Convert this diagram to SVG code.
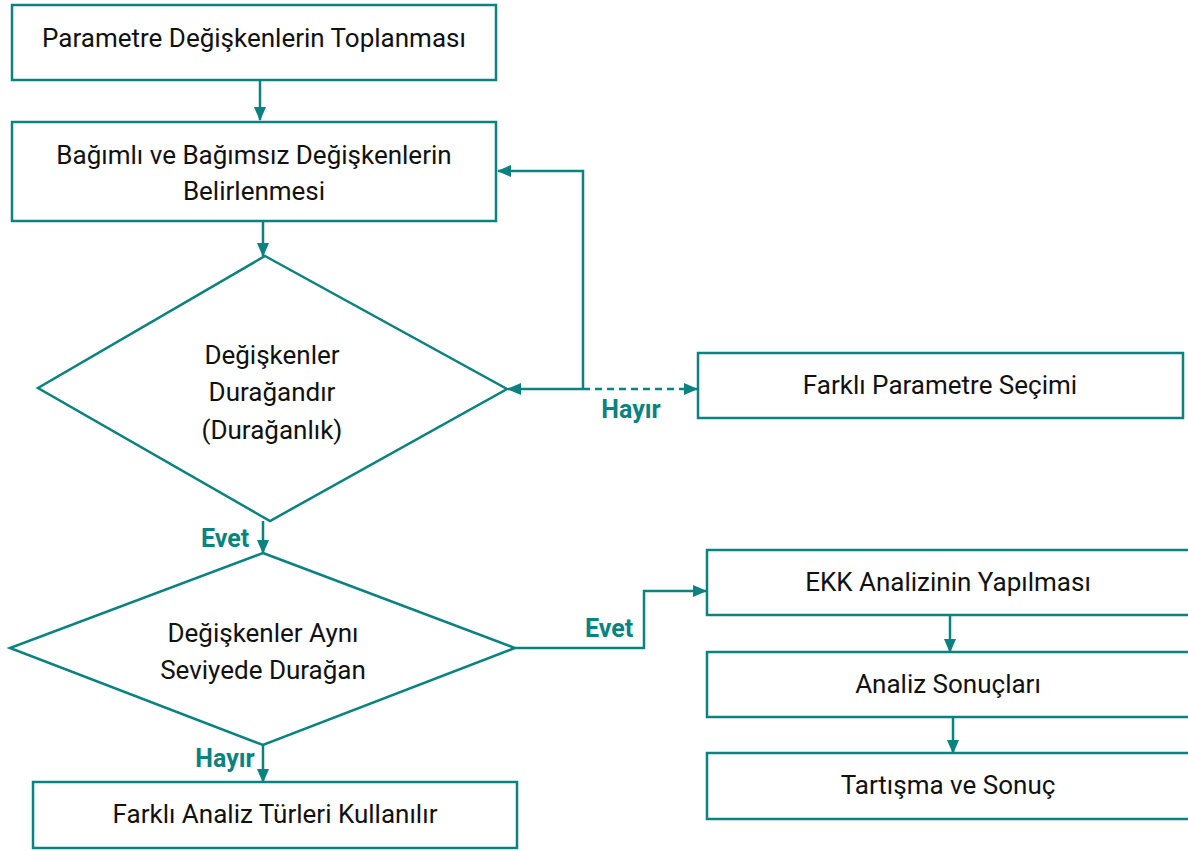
<svg xmlns="http://www.w3.org/2000/svg" width="1188" height="851" viewBox="0 0 1188 851">
<style>
.n{fill:#fff;stroke:#0a827f;stroke-width:2.5}
.t{font-family:Roboto,"Liberation Sans",sans-serif;font-size:26px;fill:#111;text-anchor:middle}
.l{font-family:Roboto,"Liberation Sans",sans-serif;font-size:25px;font-weight:bold;fill:#0a827f;text-anchor:middle}
.c{fill:none;stroke:#0a827f;stroke-width:2.5}
</style>
<defs>
<marker id="a" viewBox="0 0 14 12" refX="13" refY="6" markerWidth="14" markerHeight="12" markerUnits="userSpaceOnUse" orient="auto"><path d="M0,0L14,6L0,12Z" fill="#0a827f"/></marker>
</defs>
<g id="connectors">
<path class="c" d="M260,80V120" marker-end="url(#a)"/>
<path class="c" d="M263,221V256" marker-end="url(#a)"/>
<path class="c" d="M583,389V171H498" marker-end="url(#a)"/>
<path class="c" d="M583,389H508" marker-end="url(#a)"/>
<path class="c" d="M583,389H697" stroke-dasharray="7,5" marker-end="url(#a)"/>
<path class="c" d="M263,521V553" marker-end="url(#a)"/>
<path class="c" d="M515,648H644V591H706" marker-end="url(#a)"/>
<path class="c" d="M950,615V652" marker-end="url(#a)"/>
<path class="c" d="M953,717V753" marker-end="url(#a)"/>
<path class="c" d="M263,745V782" marker-end="url(#a)"/>
<text class="l" x="631" y="418">Hayır</text>
<text class="l" x="225" y="547">Evet</text>
<text class="l" x="609" y="637">Evet</text>
<text class="l" x="225" y="767">Hayır</text>
</g>
<g id="n1"><rect class="n" x="12" y="5" width="484" height="75"/><text class="t" x="254" y="47">Parametre Değişkenlerin Toplanması</text></g>
<g id="n2"><rect class="n" x="12" y="122" width="484" height="99"/><text class="t" x="254" y="164">Bağımlı ve Bağımsız Değişkenlerin</text><text class="t" x="254" y="200">Belirlenmesi</text></g>
<g id="d1"><path class="n" d="M265,256L507,389L270,521L38,388Z"/><text class="t" x="272" y="364">Değişkenler</text><text class="t" x="272" y="401">Durağandır</text><text class="t" x="272" y="439">(Durağanlık)</text></g>
<g id="n3"><rect class="n" x="698" y="353" width="485" height="65"/><text class="t" x="940" y="394">Farklı Parametre Seçimi</text></g>
<g id="d2"><path class="n" d="M263,553L515,648L263,745L10,648Z"/><text class="t" x="263" y="642">Değişkenler Aynı</text><text class="t" x="263" y="679">Seviyede Durağan</text></g>
<g id="n4"><rect class="n" x="707" y="550" width="500" height="65"/><text class="t" x="948" y="591">EKK Analizinin Yapılması</text></g>
<g id="n5"><rect class="n" x="707" y="652" width="500" height="65"/><text class="t" x="948" y="693">Analiz Sonuçları</text></g>
<g id="n6"><rect class="n" x="707" y="753" width="500" height="66"/><text class="t" x="948" y="794">Tartışma ve Sonuç</text></g>
<g id="n7"><rect class="n" x="33" y="782" width="484" height="66"/><text class="t" x="275" y="823">Farklı Analiz Türleri Kullanılır</text></g>
</svg>
